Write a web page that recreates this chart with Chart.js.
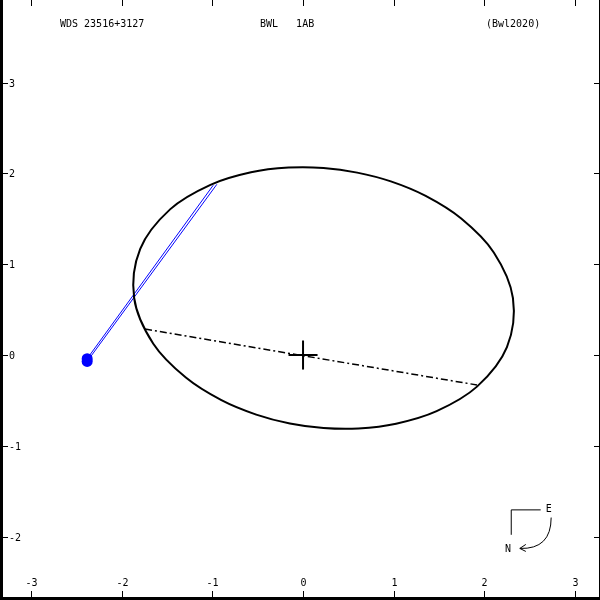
<!DOCTYPE html>
<html lang="en">
<head>
    <meta charset="UTF-8">
    <title>WDS 23516+3127 orbit</title>
    <script src="https://cdn.jsdelivr.net/npm/chart.js"></script>
    <style>
        body { margin: 0; background: #fff; }
        canvas { display: block; }
    </style>
</head>
<body>
<canvas id="orbitChart" width="600" height="600"></canvas>

<script>
    // orbit ellipse (arcsec), first/last points overlap to close the loop
    const orbitX = [2.103, 2.314, 2.248, 1.918, 1.473, 1.026, 0.611, 0.226, -0.145, -0.516, -0.900, -1.292, -1.651,
                    -1.862, -1.795, -1.466, -1.021, -0.574, -0.159, 0.226, 0.597, 0.968, 1.352, 1.744, 2.103, 2.314, 2.248];
    const orbitY = [1.130, 0.628, 0.087, -0.348, -0.618, -0.756, -0.809, -0.804, -0.754, -0.656, -0.497, -0.248, 0.125,
                    0.628, 1.169, 1.604, 1.874, 2.012, 2.064, 2.060, 2.009, 1.912, 1.752, 1.503, 1.130, 0.628, 0.087];

    // line of nodes
    const nodeX = [-1.742, 1.918];
    const nodeY = [0.286, -0.330];

    // measurements and their residual lines
    const obsX = [-2.38, -2.38];
    const obsY = [-0.04, -0.07];
    const predX = [-0.99, -0.95];
    const predY = [1.87, 1.88];

    // primary star cross
    const crossSize = 0.16;

    const xTicks = [-3, -2, -1, 0, 1, 2, 3];
    const yTicks = [-2, -1, 0, 1, 2, 3];

    const titleLeft = 'WDS 23516+3127';
    const titleMid = 'BWL   1AB';
    const titleRight = '(Bwl2020)';

    const toPts = (xs, ys) => xs.map((x, i) => ({ x: x, y: ys[i] }));
    const lastOrbit = orbitX.length - 1;

    const datasets = [
        { data: toPts(orbitX, orbitY), showLine: true, borderColor: '#000', borderWidth: 2, pointRadius: 0, tension: 0.34,
          // the overlapping end pieces only shape the curve, they are not drawn
          segment: { borderColor: c => (c.p0DataIndex === 0 || c.p1DataIndex === lastOrbit) ? 'rgba(0,0,0,0)' : '#000' } },
        { data: toPts(nodeX, nodeY), showLine: true, borderColor: '#000', borderWidth: 1.5, pointRadius: 0, borderDash: [7, 3, 2, 3] },
        { data: [{ x: -crossSize, y: 0 }, { x: crossSize, y: 0 }], showLine: true, borderColor: '#000', borderWidth: 2, pointRadius: 0 },
        { data: [{ x: 0, y: -crossSize }, { x: 0, y: crossSize }], showLine: true, borderColor: '#000', borderWidth: 2, pointRadius: 0 }
    ];
    obsX.forEach((x, i) => {
        datasets.push({ data: [{ x: x, y: obsY[i] }, { x: predX[i], y: predY[i] }], showLine: true,
            borderColor: '#0000ff', borderWidth: 1, pointRadius: 0 });
    });
    datasets.push({ data: toPts(obsX, obsY), showLine: false, pointRadius: 5.5, pointStyle: 'circle',
        backgroundColor: '#0000ff', borderColor: '#0000ff', borderWidth: 0 });

    const frame = {
        id: 'frame',
        afterDatasetsDraw(chart) {
            const ctx = chart.ctx;
            const xs = chart.scales.x, ys = chart.scales.y;
            const W = chart.width, H = chart.height;
            ctx.save();
            ctx.fillStyle = '#000';
            // border
            ctx.fillRect(0, 0, 3, H);
            ctx.fillRect(0, H - 3, W, 3);
            ctx.fillRect(W - 1, 0, 1, H);
            // ticks + labels
            ctx.font = '10px "DejaVu Sans Mono", monospace';
            ctx.textBaseline = 'middle';
            ctx.textAlign = 'center';
            xTicks.forEach(v => {
                const px = Math.round(xs.getPixelForValue(v));
                ctx.fillRect(px, 0, 1, 6);
                ctx.fillRect(px, H - 9, 1, 6);
                ctx.fillText(String(v), px + 0.5, 583);
            });
            ctx.textAlign = 'left';
            yTicks.forEach(v => {
                const py = Math.round(ys.getPixelForValue(v));
                ctx.fillRect(3, py, 5, 1);
                ctx.fillRect(W - 6, py, 5, 1);
                ctx.fillText(String(v), 9, py + 1);
            });
            // header
            ctx.fillText(titleLeft, 60, 24);
            ctx.fillText(titleMid, 260, 24);
            ctx.fillText(titleRight, 486, 24);
            // compass
            const cx = xs.getPixelForValue(2.29), cy = ys.getPixelForValue(-1.70);
            const ex = xs.getPixelForValue(2.62), ny = ys.getPixelForValue(-1.98);
            ctx.strokeStyle = '#000';
            ctx.lineWidth = 1;
            ctx.beginPath();
            ctx.moveTo(ex, cy + 0.5);
            ctx.lineTo(cx + 0.5, cy + 0.5);
            ctx.lineTo(cx + 0.5, ny);
            ctx.stroke();
            ctx.textAlign = 'center';
            ctx.fillText('E', xs.getPixelForValue(2.71), cy);
            ctx.fillText('N', xs.getPixelForValue(2.26), ys.getPixelForValue(-2.14));
            const ax = xs.getPixelForValue(2.73) + 0.5, ay = ys.getPixelForValue(-1.79);
            const tx = xs.getPixelForValue(2.39), ty = ys.getPixelForValue(-2.13);
            ctx.beginPath();
            ctx.moveTo(ax, ay);
            ctx.quadraticCurveTo(ax, ty + 1, tx, ty);
            ctx.moveTo(tx + 6, ty - 4);
            ctx.lineTo(tx, ty);
            ctx.lineTo(tx + 6, ty + 3);
            ctx.stroke();
            ctx.restore();
        }
    };

    new Chart(document.getElementById('orbitChart'), {
        type: 'scatter',
        data: { datasets: datasets },
        options: {
            responsive: false,
            animation: false,
            layout: { padding: 0, autoPadding: false },
            plugins: { legend: { display: false }, tooltip: { enabled: false } },
            scales: {
                x: { type: 'linear', display: false, min: -3.341, max: 3.274 },
                y: { type: 'linear', display: false, min: -2.698, max: 3.910 }
            }
        },
        plugins: [frame]
    });
</script>
</body>
</html>
